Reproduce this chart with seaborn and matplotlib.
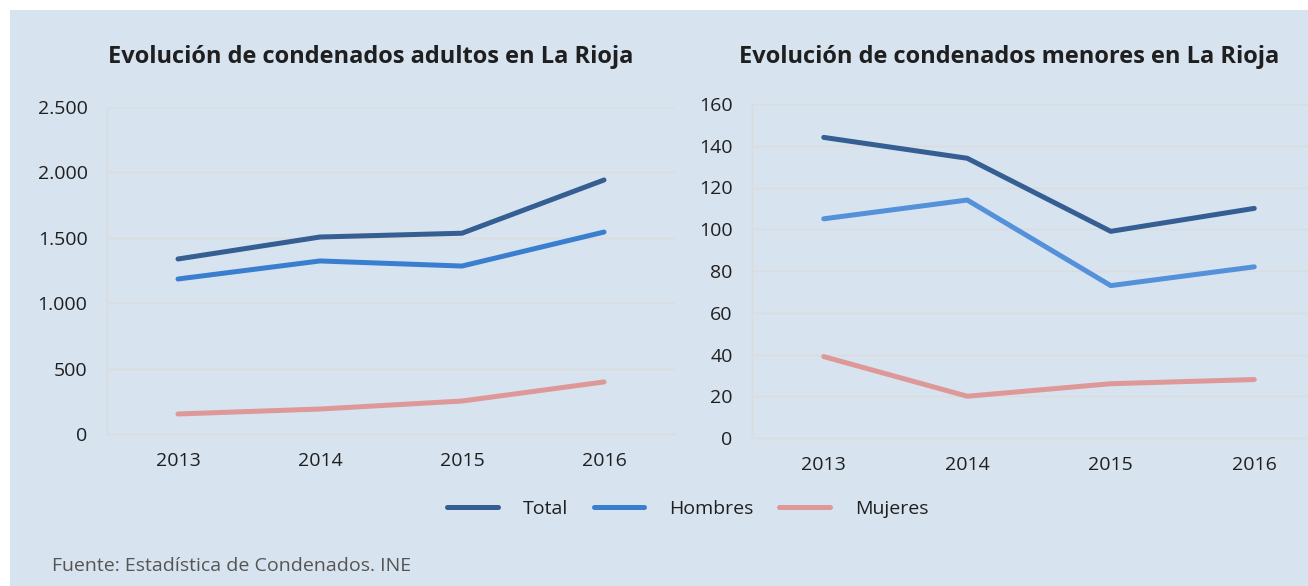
import matplotlib
matplotlib.use("Agg")
import matplotlib.pyplot as plt
import matplotlib.patches as mpatches
from matplotlib.ticker import FuncFormatter, FixedLocator
import seaborn as sns
import pandas as pd

years = ["2013", "2014", "2015", "2016"]
series_names = ["Total", "Hombres", "Mujeres"]

adultos_total = [1338, 1506, 1535, 1942]
adultos_hombres = [1185, 1323, 1284, 1544]
adultos_mujeres = [153, 191, 252, 398]

menores_total = [144, 134, 99, 110]
menores_hombres = [105, 114, 73, 82]
menores_mujeres = [39, 20, 26, 28]

title_left = "Evolución de condenados adultos en La Rioja"
title_right = "Evolución de condenados menores en La Rioja"
source_text = "Fuente: Estadística de Condenados. INE"


def long_df(total, hombres, mujeres):
    rows = []
    for name, vals in zip(series_names, [total, hombres, mujeres]):
        for y, v in zip(years, vals):
            rows.append({"Año": y, "Serie": name, "Valor": v})
    return pd.DataFrame(rows)


df_a = long_df(adultos_total, adultos_hombres, adultos_mujeres)
df_m = long_df(menores_total, menores_hombres, menores_mujeres)

sns.set_theme(style="white")
plt.rcParams["font.family"] = ["Open Sans", "DejaVu Sans"]

BG = "#D7E3EF"
GRID = "#DCDCDC"
TXT = "#1F1F1F"

fig = plt.figure(figsize=(13.08, 5.86), dpi=100)
fig.patch.set_facecolor("white")
fig.patches.append(mpatches.Rectangle((10 / 1308, 0), 1, 1 - 10 / 586,
                                      transform=fig.transFigure, facecolor=BG,
                                      edgecolor="none", zorder=-10))

ax1 = fig.add_axes([107 / 1308, 1 - 434 / 586, 568 / 1308, 327 / 586])
ax2 = fig.add_axes([752 / 1308, 1 - 438 / 586, 574 / 1308, 334 / 586])

pal_left = {"Total": "#355E92", "Hombres": "#3A7ED0", "Mujeres": "#DE9898"}
pal_right = {"Total": "#355E92", "Hombres": "#5590DA", "Mujeres": "#DE9898"}


def style_axis(ax, df, pal, ymax, ystep, fmt):
    sns.lineplot(data=df, x="Año", y="Valor", hue="Serie", palette=pal,
                 hue_order=series_names, ax=ax, linewidth=3.6,
                 solid_capstyle="round", legend=False, sort=False)
    ax.set_facecolor("none")
    ax.set_xlim(-0.5, 3.5)
    ax.set_ylim(0, ymax)
    ax.yaxis.set_major_locator(FixedLocator(list(range(0, ymax + 1, ystep))))
    ax.yaxis.set_major_formatter(FuncFormatter(fmt))
    ax.set_xticks(range(len(years)))
    ax.set_xticklabels(years)
    ax.set_xticks([-0.5, 0.5, 1.5, 2.5, 3.5], minor=True)
    ax.grid(axis="y", color=GRID, linewidth=1.0)
    ax.set_axisbelow(True)
    for s in ["top", "right"]:
        ax.spines[s].set_visible(False)
    for s in ["left", "bottom"]:
        ax.spines[s].set_color(GRID)
        ax.spines[s].set_linewidth(1.0)
    ax.tick_params(axis="x", which="major", length=0, pad=13, labelsize=14, labelcolor=TXT)
    ax.tick_params(axis="x", which="minor", length=5, color=GRID, width=1.0)
    ax.tick_params(axis="y", length=0, pad=14, labelsize=14, labelcolor=TXT)
    ax.set_xlabel("")
    ax.set_ylabel("")


style_axis(ax1, df_a, pal_left, 2500, 500,
           lambda v, p: f"{int(v):,}".replace(",", "."))
style_axis(ax2, df_m, pal_right, 160, 20, lambda v, p: f"{int(v)}")

fig.text(371 / 1308, 1 - 57 / 586, title_left, ha="center", va="center",
         fontsize=17, fontweight="bold", color=TXT)
fig.text(1009 / 1308, 1 - 57 / 586, title_right, ha="center", va="center",
         fontsize=17, fontweight="bold", color=TXT)

handles = [plt.Line2D([0], [0], color=pal_left[n], linewidth=3.6,
                      solid_capstyle="round") for n in series_names]
fig.legend(handles, series_names, loc="center", bbox_to_anchor=(688 / 1308, 1 - 509 / 586),
           ncol=3, frameon=False, fontsize=14, handlelength=2.6, handletextpad=1.3,
           columnspacing=1.3, labelcolor=TXT)

fig.text(52 / 1308, 1 - 566 / 586, source_text, ha="left", va="center",
         fontsize=14, color="#555555")

fig.savefig("out.png", dpi=100, facecolor=fig.get_facecolor())
